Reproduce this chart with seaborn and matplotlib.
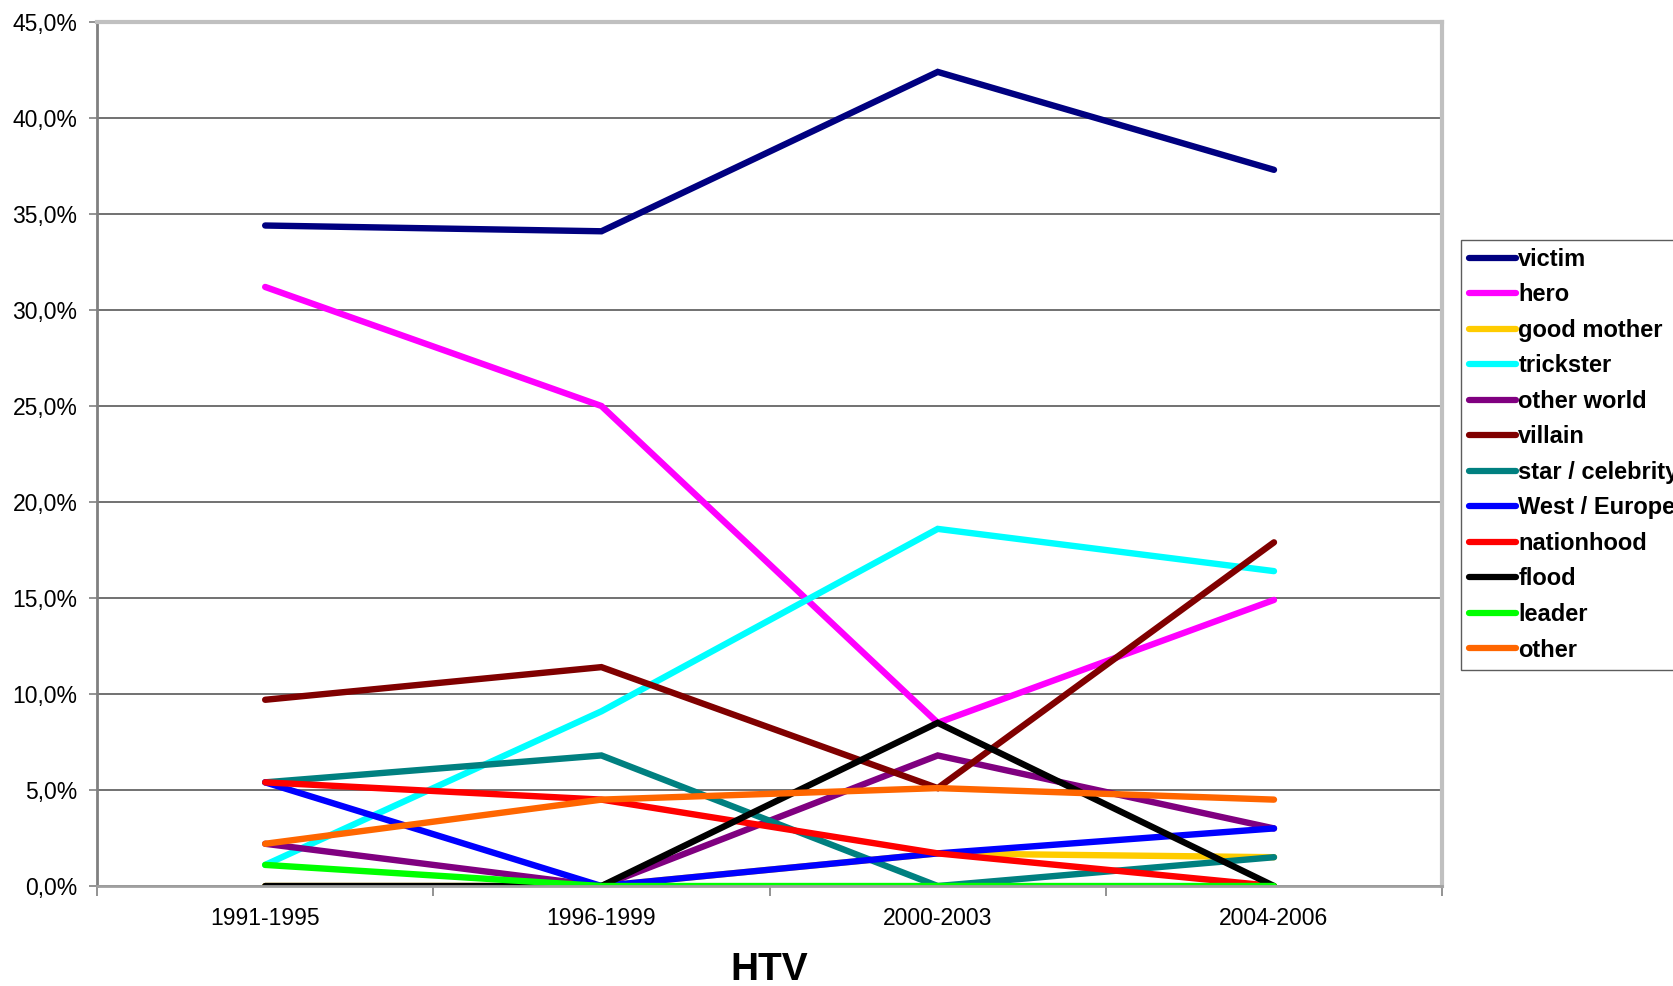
import matplotlib
matplotlib.use("Agg")
import matplotlib.pyplot as plt
import seaborn as sns
import pandas as pd
from matplotlib.ticker import FuncFormatter, FixedLocator

periods = ["1991-1995", "1996-1999", "2000-2003", "2004-2006"]
victim = [34.4, 34.1, 42.4, 37.3]
hero = [31.2, 25.0, 8.5, 14.9]
good_mother = [0.0, 0.0, 1.7, 1.5]
trickster = [1.1, 9.1, 18.6, 16.4]
other_world = [2.2, 0.0, 6.8, 3.0]
villain = [9.7, 11.4, 5.1, 17.9]
star_celebrity = [5.4, 6.8, 0.0, 1.5]
west_europe = [5.4, 0.0, 1.7, 3.0]
nationhood = [5.4, 4.5, 1.7, 0.0]
flood = [0.0, 0.0, 8.5, 0.0]
leader = [1.1, 0.0, 0.0, 0.0]
other = [2.2, 4.5, 5.1, 4.5]

series_names = ["victim", "hero", "good mother", "trickster", "other world", "villain",
                "star / celebrity", "West / Europe", "nationhood", "flood", "leader", "other"]
series_values = [victim, hero, good_mother, trickster, other_world, villain,
                 star_celebrity, west_europe, nationhood, flood, leader, other]
colors = ["#000080", "#FF00FF", "#FFCC00", "#00FFFF", "#800080", "#800000",
          "#008080", "#0000FF", "#FF0000", "#000000", "#00FF00", "#FF6600"]

rows = []
for name, vals in zip(series_names, series_values):
    for i, v in enumerate(vals):
        rows.append({"period": periods[i], "pos": i, "value": v, "series": name})
df = pd.DataFrame(rows)

sns.set_theme(style="white")
plt.rcParams["font.family"] = ["Liberation Sans", "DejaVu Sans"]
plt.rcParams["text.color"] = "black"
plt.rcParams["xtick.color"] = "black"
plt.rcParams["ytick.color"] = "black"

fig = plt.figure(figsize=(16.73, 9.86), dpi=100)
ax = fig.add_axes([0.058, 0.1014, 0.804, 0.8763])

sns.lineplot(data=df, x="pos", y="value", hue="series", hue_order=series_names,
             palette=dict(zip(series_names, colors)), linewidth=4.6, ax=ax,
             legend=True)
for ln in ax.get_lines():
    ln.set_solid_capstyle("round")
    ln.set_solid_joinstyle("miter")

ax.set_xlim(-0.5, 3.5)
ax.set_ylim(0, 45)
ax.set_yticks([0, 5, 10, 15, 20, 25, 30, 35, 40, 45])
ax.yaxis.set_major_formatter(FuncFormatter(lambda v, p: f"{v:.1f}".replace(".", ",") + "%"))
ax.set_xticks(range(len(periods)))
ax.set_xticklabels(periods)
ax.xaxis.set_minor_locator(FixedLocator([-0.5, 0.5, 1.5, 2.5, 3.5]))
ax.tick_params(axis="x", which="major", length=0, pad=15, labelsize=16.5, labelcolor="black")
ax.tick_params(axis="x", which="minor", length=7, width=1.2, color="#808080", direction="out", bottom=True)
ax.tick_params(axis="y", which="major", length=6, width=1.2, color="#808080", direction="out",
               left=True, pad=8, labelsize=16.5, labelcolor="black")
ax.grid(axis="y", color="#666666", linewidth=1.3)
ax.grid(axis="x", visible=False)
ax.set_axisbelow(True)
ax.set_xlabel("")
ax.set_ylabel("")

ax.spines["left"].set_color("#808080")
ax.spines["left"].set_linewidth(2)
ax.spines["bottom"].set_color("#a0a0a0")
ax.spines["bottom"].set_linewidth(2)
ax.spines["top"].set_color("#c0c0c0")
ax.spines["top"].set_linewidth(3)
ax.spines["right"].set_color("#c0c0c0")
ax.spines["right"].set_linewidth(3)

fig.text(0.46, 0.016, "HTV", ha="center", va="center", fontsize=28, fontweight="bold", color="black")

handles, labels = ax.get_legend_handles_labels()
ax.get_legend().remove()
for h in handles:
    h.set_linewidth(4.5)
    h.set_solid_capstyle("round")
leg = fig.legend(handles, labels, loc="upper left", bbox_to_anchor=(0.873, 0.757),
                 bbox_transform=fig.transFigure, frameon=True, fancybox=False,
                 prop={"weight": "bold", "size": 17}, handlelength=2.0, handletextpad=0.1,
                 labelspacing=0.53, borderpad=0.35, borderaxespad=0)
for t in leg.get_texts():
    t.set_color("black")
leg.get_frame().set_edgecolor("#333333")
leg.get_frame().set_linewidth(1)

fig.savefig("out.png", dpi=100)
